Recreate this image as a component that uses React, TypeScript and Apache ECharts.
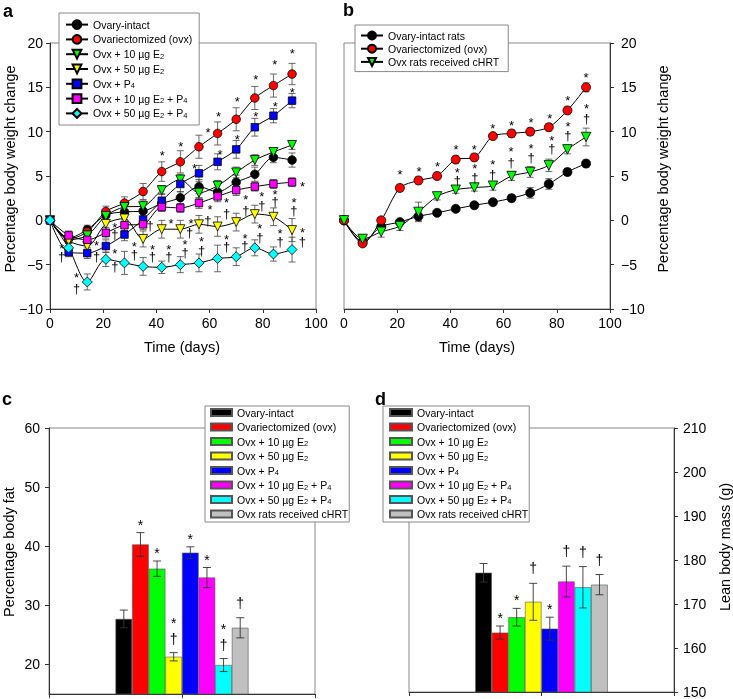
import React, { useEffect, useRef } from "react";
import * as echarts from "echarts";

const FONT = "'Liberation Sans', Arial, Helvetica, sans-serif";

// ---------- Panel a / b : time course ----------
const days = [0, 7, 14, 21, 28, 35, 42, 49, 56, 63, 70, 77, 84, 91];

const aIntact = [0, -2.0, -1.05, 0.6, 0.95, 1.05, 1.9, 2.55, 3.8, 3.2, 4.3, 5.2, 7.1, 6.8];
const aIntactErr = [0, 0.5, 0.5, 0.5, 0.6, 0.6, 0.7, 0.7, 0.8, 0.8, 0.8, 0.8, 0.6, 0.8];
const aOvx = [0, -2.1, -1.3, 1.0, 1.95, 3.25, 5.5, 6.6, 8.3, 9.8, 11.4, 13.8, 15.2, 16.5];
const aOvxErr = [0, 0.5, 0.6, 0.6, 0.7, 0.9, 1.1, 1.25, 1.3, 1.3, 1.3, 1.3, 1.3, 1.2];
const aE10 = [0, -2.2, -1.7, 0.5, 1.5, 1.6, 3.4, 4.6, 3.1, 3.9, 5.4, 6.8, 7.7, 8.5];
const aE10Err = [0, 0.4, 0.5, 0.5, 0.5, 0.6, 0.5, 0.6, 0.6, 0.6, 0.6, 0.6, 0.5, 0.5];
const aE50 = [0, -2.3, -2.9, -0.4, 0.2, -2.1, -1.0, -1.0, -0.45, -0.7, -0.2, 0.7, 0.4, -1.1];
const aE50Err = [0, 0.6, 0.7, 0.7, 0.8, 0.9, 1.0, 1.0, 1.0, 1.1, 1.0, 1.0, 1.0, 1.3];
const aP4 = [0, -3.6, -3.7, -2.9, -1.6, 0.1, 2.2, 4.1, 5.3, 6.6, 8.0, 10.5, 11.8, 13.5];
const aP4Err = [0, 0.5, 0.6, 0.7, 0.7, 0.8, 0.8, 0.9, 0.9, 0.9, 1.0, 1.0, 0.8, 0.8];
const aE10P4 = [0, -1.7, -2.2, -1.4, -0.55, -0.45, 1.5, 1.4, 1.95, 2.7, 3.4, 3.8, 4.1, 4.3];
const aE10P4Err = [0, 0.5, 0.5, 0.6, 0.6, 0.6, 0.5, 0.5, 0.6, 0.6, 0.6, 0.5, 0.5, 0.5];
const aE50P4 = [0, -3.1, -6.95, -4.4, -4.8, -5.2, -5.3, -5.0, -4.8, -4.3, -4.1, -3.1, -3.8, -3.3];
const aE50P4Err = [0, 0.7, 0.9, 0.8, 1.3, 1.0, 0.7, 0.9, 1.0, 1.5, 1.0, 0.9, 0.8, 1.4];

// significance marks: [day, value, mark]
const aMarks: [number, number, string][] = [
  [42.2, 7.6, "*"], [49.2, 8.7, "*"], [59.4, 10.2, "*"], [63.4, 12.0, "*"], [70.4, 13.7, "*"],
  [77.4, 16.2, "*"], [84.5, 17.9, "*"], [91.1, 19.1, "*"],
  [54.3, 6.2, "*"], [63.9, 7.8, "*"], [70.4, 9.5, "*"], [77.4, 12.0, "*"], [84.7, 13.2, "*"], [91.1, 14.8, "*"],
  [94.9, 4.1, "*"],
  [4.4, -2.8, "*"], [4.4, -4.1, "†"],
  [24.4, -0.45, "*"], [24.4, -1.6, "†"],
  [37.6, -0.6, "†"],
  [45.5, 0.0, "*"], [53.0, 0.0, "*"], [52.5, -1.4, "†"], [59.3, 0.0, "†"],
  [60.2, 1.6, "*"], [66.4, 2.3, "*"], [66.4, 0.75, "†"], [73.6, 2.7, "*"], [73.6, 1.1, "†"],
  [79.6, 3.0, "*"], [79.6, 1.7, "†"], [84.6, 3.3, "*"], [84.6, 2.1, "†"], [91.7, 2.3, "*"], [91.7, 1.1, "†"],
  [10.0, -6.1, "*"], [10.0, -7.7, "†"],
  [17.5, -2.5, "*"], [17.5, -4.1, "†"],
  [24.4, -3.4, "*"], [24.4, -5.2, "†"],
  [31.7, -2.6, "*"], [31.7, -3.8, "†"],
  [38.5, -2.9, "*"], [38.5, -4.1, "†"],
  [44.7, -2.9, "*"], [44.7, -4.1, "†"],
  [50.8, -2.4, "*"], [50.8, -3.6, "†"],
  [57.0, -2.1, "*"], [57.0, -3.4, "†"],
  [66.4, -1.8, "*"], [66.4, -3.0, "†"],
  [73.3, -1.7, "*"], [73.3, -2.8, "†"],
  [78.9, -0.55, "*"], [78.9, -1.95, "†"],
  [86.5, -1.1, "*"], [86.5, -2.4, "†"],
  [94.9, -1.05, "*"], [94.9, -2.4, "†"],
];

const bIntact = [0, -2.4, -0.7, -0.2, 0.45, 0.85, 1.3, 1.7, 2.05, 2.5, 3.1, 4.1, 5.45, 6.4];
const bIntactErr = [0, 0.4, 0.4, 0.3, 0.5, 0.3, 0.3, 0.3, 0.3, 0.4, 0.6, 0.6, 0.4, 0.4];
const bOvx = [0, -2.6, 0, 3.65, 4.5, 5.0, 6.85, 7.1, 9.5, 9.8, 10.0, 10.5, 12.4, 15.0];
const bOvxErr = [0, 0.3, 0.3, 0.4, 0.4, 0.4, 0.4, 0.4, 0.3, 0.4, 0.4, 0.4, 0.4, 0.5];
const bHrt = [0, -2.1, -1.3, -0.65, 0.95, 2.7, 3.45, 3.7, 3.9, 5.0, 5.45, 6.2, 8.0, 9.4];
const bHrtErr = [0, 0.5, 0.6, 0.5, 1.1, 0.4, 0.4, 0.4, 0.5, 0.5, 0.6, 0.7, 0.5, 1.0];

const bMarks: [number, number, string][] = [
  [21.1, 5.5, "*"], [28.2, 5.8, "*"], [35.2, 6.4, "*"], [42.1, 8.3, "*"], [49.0, 8.3, "*"],
  [55.9, 10.7, "*"], [63.0, 11.0, "*"], [70.3, 11.35, "*"], [77.4, 11.8, "*"], [84.1, 13.9, "*"], [91.0, 16.5, "*"],
  [42.6, 5.7, "*"], [42.6, 4.5, "†"], [49.2, 6.2, "*"], [49.2, 4.8, "†"], [55.9, 6.65, "*"], [55.9, 5.15, "†"],
  [62.8, 8.1, "*"], [62.8, 6.5, "†"], [70.3, 8.4, "*"], [70.3, 7.1, "†"], [78.1, 9.3, "*"], [78.1, 8.1, "†"],
  [84.2, 10.9, "*"], [84.2, 9.6, "†"], [91.2, 13.0, "*"], [91.2, 11.5, "†"],
];

// ---------- Panel c / d : bars ----------
const groupLabels = [
  "Ovary-intact",
  "Ovariectomized (ovx)",
  "Ovx + 10 µg E{s|2}",
  "Ovx + 50 µg E{s|2}",
  "Ovx + P{s|4}",
  "Ovx + 10 µg E{s|2} + P{s|4}",
  "Ovx + 50 µg E{s|2} + P{s|4}",
  "Ovx rats received cHRT",
];
const groupColors = ["#000000", "#ff0000", "#00ff00", "#ffff00", "#0000ff", "#ff00ff", "#00ffff", "#c0c0c0"];

const fatValues = [27.7, 40.3, 36.2, 21.3, 38.9, 34.7, 19.9, 26.2];
const fatErrors = [1.5, 2.0, 1.3, 0.7, 1.0, 1.7, 1.1, 1.7];
const fatMarks = ["", "*", "*", "*†", "*", "*", "*†", "†"];

const leanValues = [177.1, 163.5, 167.0, 170.5, 164.4, 175.1, 173.8, 174.4];
const leanErrors = [2.1, 1.5, 2.0, 4.2, 2.6, 3.5, 4.7, 2.3];
const leanMarks = ["", "*", "*", "†", "*", "†", "†", "†"];

const bLabels = ["Ovary-intact rats", "Ovariectomized (ovx)", "Ovx rats received cHRT"];

const labelMap: Record<string, string> = {};
groupLabels.forEach((l, i) => {
  labelMap["a" + i] = l;
  labelMap["c" + i] = l;
  labelMap["d" + i] = l;
});
bLabels.forEach((l, i) => (labelMap["b" + i] = l));

const axisColor = "#333";
const rich = {
  s: { fontSize: 7.5, fontFamily: FONT, color: "#000", verticalAlign: "bottom", lineHeight: 6 },
};

function lineSeries(name: string, gi: number, vals: number[], color: string, symbol: string, rot: number, size: number) {
  return {
    type: "line",
    name,
    xAxisIndex: gi,
    yAxisIndex: gi,
    data: days.map((d, i) => [d, vals[i]]),
    smooth: 0.3,
    symbol,
    symbolRotate: rot,
    symbolSize: size,
    lineStyle: { color: "#000", width: 1 },
    itemStyle: { color, borderColor: "#000", borderWidth: 0.8 },
    z: 3,
  };
}

function errSeries(gi: number, vals: number[], errs: number[]) {
  return {
    type: "custom",
    xAxisIndex: gi,
    yAxisIndex: gi,
    silent: true,
    z: 2,
    encode: { x: 0, y: 1 },
    data: days.map((d, i) => [d, vals[i], errs[i]]),
    renderItem: (params: any, api: any) => {
      const i = params.dataIndex;
      const e = errs[i];
      if (!e) return { type: "group", children: [] };
      const t = api.coord([days[i], vals[i] + e]);
      const b = api.coord([days[i], vals[i] - e]);
      const w = 3.5;
      const st = { stroke: "#444", lineWidth: 0.8 };
      return {
        type: "group",
        children: [
          { type: "line", shape: { x1: t[0], y1: t[1], x2: b[0], y2: b[1] }, style: st },
          { type: "line", shape: { x1: t[0] - w, y1: t[1], x2: t[0] + w, y2: t[1] }, style: st },
          { type: "line", shape: { x1: b[0] - w, y1: b[1], x2: b[0] + w, y2: b[1] }, style: st },
        ],
      };
    },
  };
}

function markSeries(gi: number, marks: [number, number, string][]) {
  return {
    type: "custom",
    xAxisIndex: gi,
    yAxisIndex: gi,
    silent: true,
    z: 6,
    encode: { x: 0, y: 1 },
    data: marks.map((m) => [m[0], m[1]]),
    renderItem: (params: any, api: any) => {
      const m = marks[params.dataIndex];
      const c = api.coord([m[0], m[1]]);
      const star = m[2] === "*";
      return {
        type: "text",
        x: c[0],
        y: c[1] + (star ? 3 : 0),
        style: {
          text: m[2],
          fontSize: 13,
          fontFamily: FONT,
          fill: "#000",
          align: "center",
          verticalAlign: "middle",
        },
      };
    },
  };
}

function barSeries(name: string, xi: number, yi: number, val: number, color: string) {
  return {
    type: "bar",
    name,
    xAxisIndex: xi,
    yAxisIndex: yi,
    data: [val],
    barWidth: "6.25%",
    barGap: "0%",
    itemStyle: { color, borderColor: "#555", borderWidth: 0.6 },
    z: 2,
  };
}

function barErrSeries(xi: number, yi: number, vals: number[], errs: number[], marks: string[]) {
  return {
    type: "custom",
    xAxisIndex: xi,
    yAxisIndex: yi,
    silent: true,
    z: 5,
    encode: { x: 0, y: 1 },
    data: vals.map((v) => [0, v]),
    renderItem: (params: any, api: any) => {
      const i = params.dataIndex;
      const v = vals[i];
      const e = errs[i];
      const band = api.size([1, 0])[0];
      const c = api.coord([0, v]);
      const x = c[0] + (i - 3.5) * band * 0.0625;
      const top = api.coord([0, v + e])[1];
      const bot = api.coord([0, v - e])[1];
      const w = 4;
      const st = { stroke: "#333", lineWidth: 0.9 };
      const children: any[] = [
        { type: "line", shape: { x1: x, y1: top, x2: x, y2: bot }, style: st },
        { type: "line", shape: { x1: x - w, y1: top, x2: x + w, y2: top }, style: st },
        { type: "line", shape: { x1: x - w, y1: bot, x2: x + w, y2: bot }, style: st },
      ];
      const mk = marks[i];
      const txt = (s: string, y: number) => ({
        type: "text",
        x,
        y,
        style: { text: s, fontSize: 14, fontFamily: FONT, fill: "#000", align: "center", verticalAlign: "middle" },
      });
      if (mk === "*") children.push(txt("*", top - 11 + 3));
      else if (mk === "†") children.push(txt("†", top - 15));
      else if (mk === "*†") {
        children.push(txt("†", top - 14));
        children.push(txt("*", top - 33 + 3));
      }
      return { type: "group", children };
    },
  };
}

const minus = (v: number) => String(v).replace("-", "\u2212");

function timeXAxis(gi: number) {
  return {
    type: "value",
    gridIndex: gi,
    min: 0,
    max: 100,
    interval: 20,
    position: "bottom",
    axisLine: { show: true, onZero: false, lineStyle: { color: axisColor, width: 1 } },
    axisTick: { show: true, length: 4, lineStyle: { color: axisColor } },
    axisLabel: { fontSize: 14, color: "#000", fontFamily: FONT, margin: 7 },
    splitLine: { show: false },
  };
}

function pctYAxis(gi: number, pos: string) {
  return {
    type: "value",
    gridIndex: gi,
    min: -10,
    max: 20,
    interval: 5,
    position: pos,
    axisLine: { show: true, onZero: false, lineStyle: { color: axisColor, width: 1 } },
    axisTick: { show: true, length: 4, lineStyle: { color: axisColor } },
    axisLabel: { fontSize: 14, color: "#000", fontFamily: FONT, margin: pos === "left" ? 7 : 11, formatter: minus },
    splitLine: { show: false },
  };
}

function tickXAxis(gi: number) {
  return {
    type: "value",
    gridIndex: gi,
    min: 0,
    max: 2,
    interval: 1,
    position: "bottom",
    axisLine: { show: true, onZero: false, lineStyle: { color: axisColor, width: 1 } },
    axisTick: { show: true, length: 4, lineStyle: { color: axisColor } },
    axisLabel: { show: false },
    splitLine: { show: false },
  };
}

export default function App() {
  const ref = useRef<HTMLDivElement>(null);
  useEffect(() => {
    document.body.style.margin = "0";
    const chart = echarts.init(ref.current!, null, { renderer: "svg" });

    const aDefs = [
      { vals: aIntact, errs: aIntactErr, symbol: "circle", rot: 0, size: 8.5 },
      { vals: aOvx, errs: aOvxErr, symbol: "circle", rot: 0, size: 8.5 },
      { vals: aE10, errs: aE10Err, symbol: "triangle", rot: 180, size: 9 },
      { vals: aE50, errs: aE50Err, symbol: "triangle", rot: 180, size: 9 },
      { vals: aP4, errs: aP4Err, symbol: "rect", rot: 0, size: 7.5 },
      { vals: aE10P4, errs: aE10P4Err, symbol: "rect", rot: 0, size: 7.5 },
      { vals: aE50P4, errs: aE50P4Err, symbol: "diamond", rot: 0, size: 10 },
    ];
    const bDefs = [
      { vals: bIntact, errs: bIntactErr, color: "#000000", symbol: "circle", rot: 0, size: 9 },
      { vals: bOvx, errs: bOvxErr, color: "#ff0000", symbol: "circle", rot: 0, size: 9 },
      { vals: bHrt, errs: bHrtErr, color: "#00ff00", symbol: "triangle", rot: 180, size: 9.5 },
    ];

    const series: any[] = [];
    aDefs.forEach((d) => series.push(errSeries(0, d.vals, d.errs)));
    aDefs.forEach((d, i) => series.push(lineSeries("a" + i, 0, d.vals, groupColors[i], d.symbol, d.rot, d.size)));
    series.push(markSeries(0, aMarks));
    bDefs.forEach((d) => series.push(errSeries(1, d.vals, d.errs)));
    bDefs.forEach((d, i) => series.push(lineSeries("b" + i, 1, d.vals, d.color, d.symbol, d.rot, d.size)));
    series.push(markSeries(1, bMarks));
    groupColors.forEach((c, i) => series.push(barSeries("c" + i, 2, 2, fatValues[i], c)));
    series.push(barErrSeries(2, 2, fatValues, fatErrors, fatMarks));
    groupColors.forEach((c, i) => series.push(barSeries("d" + i, 4, 3, leanValues[i], c)));
    series.push(barErrSeries(4, 3, leanValues, leanErrors, leanMarks));

    const legendText = { fontFamily: FONT, fontSize: 10.5, color: "#000", lineHeight: 12, rich };
    const legendBase = {
      orient: "vertical",
      selectedMode: false,
      formatter: (n: string) => labelMap[n],
      borderColor: "#888",
      borderWidth: 1,
      backgroundColor: "#fff",
      borderRadius: 0,
      textStyle: legendText,
      z: 10,
    };

    const titleStyle = { fontSize: 14.5, fontFamily: FONT, fill: "#000", align: "center", verticalAlign: "middle" };
    const panelStyle = { fontSize: 18, fontWeight: "bold", fontFamily: FONT, fill: "#000", verticalAlign: "middle" };

    chart.setOption({
      animation: false,
      grid: [
        { left: 50, top: 43, width: 266, height: 266, show: true, borderColor: "#888", borderWidth: 1 },
        { left: 344, top: 43, width: 266, height: 266, show: true, borderColor: "#888", borderWidth: 1 },
        { left: 49, top: 428, width: 266, height: 266, show: true, borderColor: "#888", borderWidth: 1 },
        { left: 409, top: 428, width: 265, height: 266, show: true, borderColor: "#888", borderWidth: 1 },
      ],
      xAxis: [
        timeXAxis(0),
        timeXAxis(1),
        { type: "category", gridIndex: 2, data: ["fat"], show: false },
        tickXAxis(2),
        { type: "category", gridIndex: 3, data: ["lean"], show: false },
        tickXAxis(3),
      ],
      yAxis: [
        pctYAxis(0, "left"),
        pctYAxis(1, "right"),
        {
          type: "value",
          gridIndex: 2,
          min: 15,
          max: 60,
          position: "left",
          axisLine: { show: true, onZero: false, lineStyle: { color: axisColor, width: 1 } },
          axisTick: { show: true, length: 4, lineStyle: { color: axisColor }, customValues: [20, 30, 40, 50, 60] },
          axisLabel: { fontSize: 14, color: "#000", fontFamily: FONT, margin: 9, customValues: [20, 30, 40, 50, 60] },
          splitLine: { show: false },
        },
        {
          type: "value",
          gridIndex: 3,
          min: 150,
          max: 210,
          interval: 10,
          position: "right",
          axisLine: { show: true, onZero: false, lineStyle: { color: axisColor, width: 1 } },
          axisTick: { show: true, length: 4, lineStyle: { color: axisColor } },
          axisLabel: { fontSize: 14, color: "#000", fontFamily: FONT, margin: 9 },
          splitLine: { show: false },
        },
      ],
      legend: [
        {
          ...legendBase,
          left: 59,
          top: 13,
          data: ["a0", "a1", "a2", "a3", "a4", "a5", "a6"],
          itemWidth: 22,
          itemHeight: 11,
          itemGap: 2.8,
          padding: [5.6, 7, 5.6, 6],
        },
        {
          ...legendBase,
          left: 355,
          top: 25,
          data: ["b0", "b1", "b2"],
          itemWidth: 22,
          itemHeight: 10,
          itemGap: 1.2,
          padding: [4.5, 9, 3.7, 5],
        },
        {
          ...legendBase,
          left: 205,
          top: 406,
          data: ["c0", "c1", "c2", "c3", "c4", "c5", "c6", "c7"],
          icon: "rect",
          itemWidth: 21,
          itemHeight: 7,
          itemGap: 2.5,
          padding: [0.5, 1, 2, 5],
        },
        {
          ...legendBase,
          left: 383,
          top: 406,
          data: ["d0", "d1", "d2", "d3", "d4", "d5", "d6", "d7"],
          icon: "rect",
          itemWidth: 22,
          itemHeight: 7,
          itemGap: 2.5,
          padding: [0.5, 1, 2, 6],
        },
      ],
      graphic: [
        { type: "text", x: 3, y: 11, style: { ...panelStyle, text: "a" } },
        { type: "text", x: 343, y: 10, style: { ...panelStyle, text: "b" } },
        { type: "text", x: 2, y: 399, style: { ...panelStyle, text: "c" } },
        { type: "text", x: 375, y: 399, style: { ...panelStyle, text: "d" } },
        { type: "text", x: 10, y: 169, rotation: Math.PI / 2, style: { ...titleStyle, text: "Percentage body weight change" } },
        { type: "text", x: 662.5, y: 169, rotation: Math.PI / 2, style: { ...titleStyle, text: "Percentage body weight change" } },
        { type: "text", x: 182, y: 347, style: { ...titleStyle, text: "Time (days)" } },
        { type: "text", x: 477, y: 347, style: { ...titleStyle, text: "Time (days)" } },
        { type: "text", x: 9, y: 552, rotation: Math.PI / 2, style: { ...titleStyle, text: "Percentage body fat" } },
        { type: "text", x: 724.5, y: 547, rotation: Math.PI / 2, style: { ...titleStyle, text: "Lean body mass (g)" } },
      ],
      series,
    });
    return () => chart.dispose();
  }, []);
  return <div ref={ref} style={{ width: 733, height: 699, willChange: "transform" }} />;
}
